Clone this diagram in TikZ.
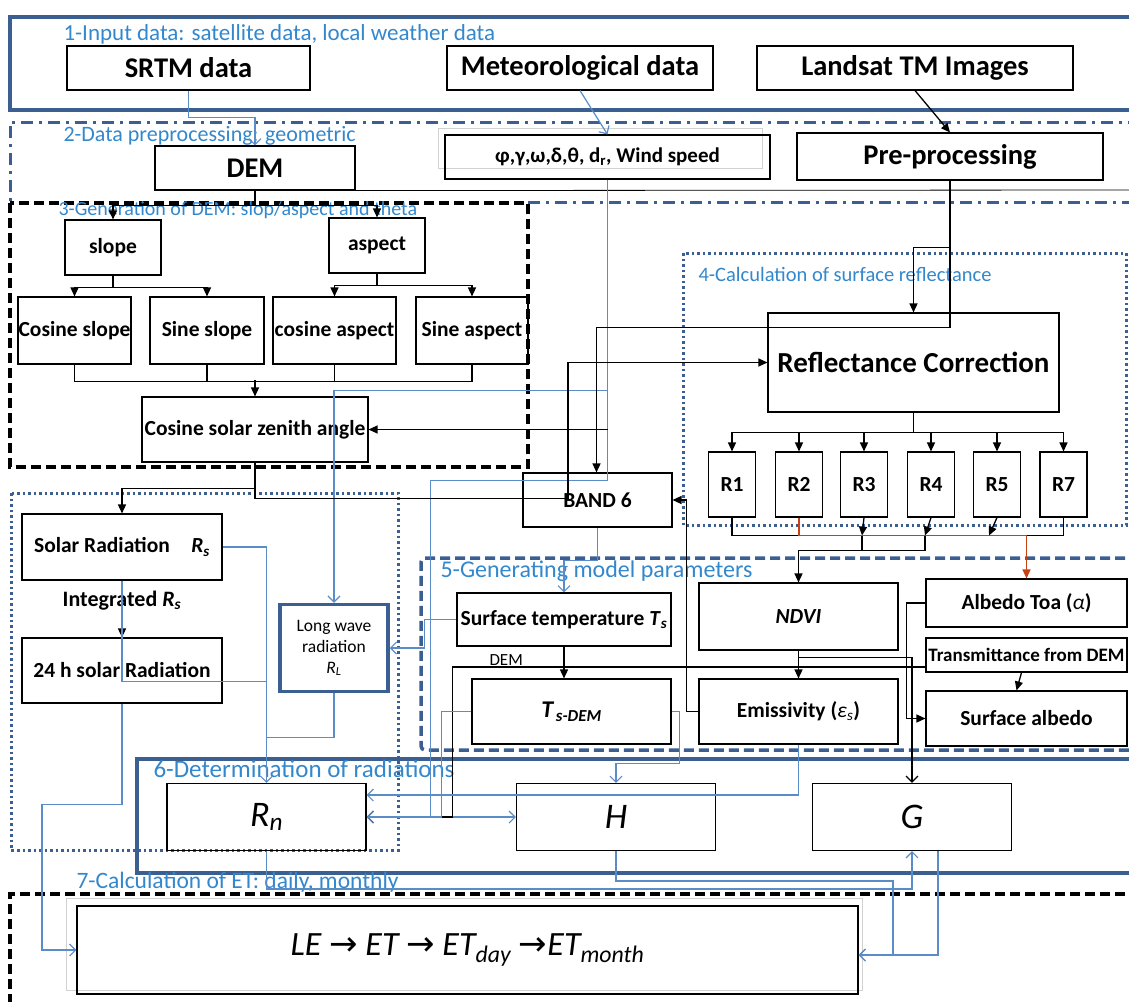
\documentclass[tikz,border=0pt]{standalone}
\usepackage{fontspec}
\setmainfont{Carlito}
\newfontfamily\arrowfont{DejaVu Sans}
\usetikzlibrary{arrows.meta}
\definecolor{framebl}{RGB}{60,95,145}
\definecolor{linebl}{RGB}{90,140,200}
\definecolor{titlebl}{RGB}{50,135,205}
\definecolor{redarr}{RGB}{200,65,20}

\begin{document}
\begin{tikzpicture}[x=1pt,y=-1pt,
    box/.style={draw,line width=1.1pt,inner sep=0pt,align=center,font=\bfseries\fontsize{21.5}{25}\selectfont},
    bigbox/.style={box,font=\bfseries\fontsize{28.5}{32}\selectfont},
    radbox/.style={box,font=\itshape\fontsize{36}{40}\selectfont,minimum width=199,minimum height=67},
    sectitle/.style={anchor=base west,text=titlebl,font=\fontsize{23}{27}\selectfont},
    tri/.style={line width=1.3pt,-{Triangle[length=9pt,width=8pt]}},
    blkline/.style={line width=1.3pt},
    blu/.style={linebl,line width=1.2pt,-{Straight Barb[length=6pt,width=12pt]}},
    bluline/.style={linebl,line width=1.2pt}]
  \useasboundingbox (0,0) rectangle (1129,1001);
  \draw[framebl,line width=4pt] (1140,17) -- (10,17) -- (10,110) -- (1140,110);
  \draw[framebl,line width=3pt,dash pattern=on 12pt off 6pt on 3pt off 6pt] (1140,122) -- (10,122) -- (10,202);
  \draw[framebl,line width=3pt,dash pattern=on 12pt off 6pt on 3pt off 6pt] (528,202) -- (1140,202);
  \draw[line width=3.5pt,dash pattern=on 10pt off 5pt] (10,203) rectangle (528,467);
  \draw[framebl,line width=3pt,dash pattern=on 2.5pt off 3pt] (683,253) rectangle (1126,525);
  \draw[framebl,line width=3pt,dash pattern=on 2.5pt off 3pt] (11,493) rectangle (398,850);
  \draw[framebl,line width=3.5pt,dash pattern=on 10pt off 5pt,rounded corners=4pt] (1140,558) -- (421,558) -- (421,750) -- (1140,750);
  \draw[framebl,line width=4pt] (1140,759) -- (137,759) -- (137,873) -- (1140,873);
  \draw[line width=3.5pt,dash pattern=on 10pt off 5pt] (1140,894) -- (10,894) -- (10,1010);

  \node[sectitle] (t1) at (60,40) {1-Input data: satellite data, local weather data};
  \node[sectitle,font=\fontsize{22}{26}\selectfont] (t2) at (60,141) {2-Data preprocessing: geometric};
  \node[sectitle,font=\fontsize{20}{24}\selectfont] (t3) at (55,215) {3-Generation of DEM: slop/aspect and theta};
  \node[sectitle,font=\fontsize{20.5}{24}\selectfont] (t4) at (695,281) {4-Calculation of surface reflectance};
  \node[sectitle,font=\fontsize{24}{28}\selectfont] (t5) at (437,577) {5-Generating model parameters};
  \node[sectitle,font=\fontsize{25}{29}\selectfont] (t6) at (150,777) {6-Determination of radiations};
  \node[sectitle,font=\fontsize{23.5}{27}\selectfont] (t7) at (73,888) {7-Calculation of ET: daily, monthly};

  \node[bigbox,minimum width=243,minimum height=44] (srtm) at (188.5,68) {SRTM data};
  \node[bigbox,minimum width=266,minimum height=44] (meteo) at (580,68) {Meteorological data};
  \node[bigbox,minimum width=316,minimum height=44] (landsat) at (915,68) {Landsat TM Images};
  \draw[gray!35,line width=1pt] (438,128) rectangle (762,168);
  \node[box,font=\bfseries\fontsize{21}{25}\selectfont,minimum width=325,minimum height=44] (params) at (607.5,157) {φ,γ,ω,δ,θ, d\textsubscript{r}, Wind speed};
  \node[bigbox,minimum width=200,minimum height=44] (dem) at (255,168) {DEM};
  \node[bigbox,minimum width=306,minimum height=47] (preproc) at (950,156.5) {Pre-processing};
  \node[box,minimum width=96,minimum height=55] (slope) at (113,247.5) {slope};
  \node[box,minimum width=96,minimum height=55] (aspect) at (377,245.5) {aspect};
  \node[box,minimum width=113,minimum height=67] (cosslope) at (74.5,330.5) {Cosine slope};
  \node[box,minimum width=114,minimum height=67] (sinslope) at (207,330.5) {Sine slope};
  \node[box,minimum width=123,minimum height=67] (cosaspect) at (334.5,330.5) {cosine aspect};
  \node[box,minimum width=112,minimum height=67] (sinaspect) at (472,330.5) {Sine aspect};
  \node[box,minimum width=226,minimum height=65] (cosz) at (255,429.5) {Cosine solar zenith angle};
  \node[bigbox,font=\bfseries\fontsize{29}{33}\selectfont,minimum width=291,minimum height=99] (reflc) at (913.5,362.5) {Reflectance Correction};
  \foreach \r/\x in {R1/732,R2/799,R3/864,R4/931,R5/997,R7/1063.5}
    \node[box,font=\bfseries\fontsize{21.5}{25}\selectfont,minimum width=47,minimum height=65] (\r) at (\x,484.5) {\r};
  \node[box,minimum width=149,minimum height=54] (band6) at (597.5,500) {BAND 6};
  \node[box,minimum width=200,minimum height=66] (solar) at (122,547) {Solar Radiation\quad\textit{R}\textsubscript{\textit{s}}};
  \node[box,minimum width=200,minimum height=65] (h24) at (122,670.5) {24 h solar Radiation};
  \node[font=\bfseries\fontsize{22}{25}\selectfont] (integ) at (122,601) {Integrated \textit{R}\textsubscript{\textit{s}}};
  \node[box,draw=framebl,line width=3.5pt,font=\fontsize{17.5}{21}\selectfont,minimum width=108,minimum height=87] (longwave) at (334,648) {Long wave\\radiation\\\textit{R}\textsubscript{\textit{L}}};
  \node[box,minimum width=214,minimum height=53] (surftemp) at (564,619.5) {Surface temperature \textit{T}\textsubscript{\textit{s}}};
  \node[box,minimum width=199,minimum height=67] (ndvi) at (798.5,616.5) {\textit{NDVI}};
  \node[box,minimum width=201,minimum height=48] (albtoa) at (1026.5,603) {Albedo Toa (\textnormal{\textit{α}})};
  \node[box,font=\bfseries\fontsize{19}{22}\selectfont,minimum width=201,minimum height=34] (transm) at (1026.5,655) {Transmittance from DEM};
  \node[box,font=\bfseries\itshape\fontsize{24}{28}\selectfont,minimum width=199,minimum height=65] (tsdem) at (571.5,711.5) {T\textsubscript{\,s-DEM}};
  \node[box,minimum width=199,minimum height=65] (emis) at (798.5,711.5) {Emissivity (\textnormal{\textit{ε}\textsubscript{\textit{s}}})};
  \node[box,minimum width=201,minimum height=55] (surfalb) at (1026.5,718.5) {Surface albedo};
  \node[anchor=base west,font=\fontsize{17}{20}\selectfont] (demlbl) at (486,665) {DEM};
  \node[radbox] (Rn) at (266.5,817) {R\textsubscript{n}};
  \node[radbox] (H) at (616,817) {H};
  \node[radbox] (G) at (912,817) {G};
  \draw[gray!35,line width=1pt] (66,898) rectangle (862,990);
  \node[box,font=\itshape\fontsize{34}{38}\selectfont,minimum width=781,minimum height=88] (et) at (467.5,950)
    {LE {\upshape\arrowfont →} ET {\upshape\arrowfont →} ET\textsubscript{day} {\upshape\arrowfont →}ET\textsubscript{month}};

  \draw[line width=0.8pt] (dem.south east) -- (1140,190);
  \draw[tri] (landsat.south) -- (preproc.north);
  \draw[blu] (meteo.south) -- (params.north);
  \draw[blu] (srtm.south) -- ++(0,27) -| (dem.north);
  \draw[tri] (dem.south) -- ++(0,15) -| (slope.north);
  \draw[tri] (dem.south) -- ++(0,15) -| (aspect.north);
  \draw[tri] (slope.south) -- ++(0,12) -| (cosslope.north);
  \draw[tri] (slope.south) -- ++(0,12) -| (sinslope.north);
  \draw[tri] (aspect.south) -- ++(0,12) -| (cosaspect.north);
  \draw[tri] (aspect.south) -- ++(0,12) -| (sinaspect.north);
  \draw[blkline] (cosslope.south) -- ++(0,17) -| (sinaspect.south);
  \draw[blkline] (sinslope.south) -- ++(0,17);
  \draw[blkline] (cosaspect.south) -- ++(0,17);
  \draw[tri] (cosz.north) ++(0,-16) -- (cosz.north);
  \draw[blu] (params.south) -- ++(0,211) -| (longwave.north);
  \draw[blu] (params.south) -- ++(0,301) -- ++(-177,0) |- (H.west);
  \draw[tri] (params.south |- cosz.east) -- (cosz.east);
  \draw[tri] (preproc.south) -- ++(0,67) -| (reflc.north);
  \draw[tri] (preproc.south) -- ++(0,147) -| ([xshift=-1pt]band6.north);
  \foreach \r in {R1,R2,R3,R4,R5,R7}
    \draw[tri] (reflc.south) -- ++(0,20) -| (\r.north);
  \draw[tri] (cosz.south) -- ++(0,26) -| (solar.north);
  \draw[tri] (cosz.south) -- ++(0,36) -- ++(313,0) |- (reflc.west);
  \draw[tri] (emis.west) -- ++(-12,0) |- (band6.east);
  \draw[blu] (band6.south) -- ++(0,33) -| (surftemp.north);
  \draw[blu] (surftemp.west) -- ++(-32,0) |- (longwave.east);
  \draw[tri] (surftemp.south) -- (surftemp.south |- tsdem.north);
  \draw[tri] (ndvi) -- (emis);
  \draw[blkline,-{Straight Barb[length=6pt,width=12pt]}] (ndvi.south) -- ++(0,7) -| (G.north);
  \draw[tri] (albtoa.west) -- ++(-19,0) |- (surfalb.west);
  \draw[tri] ([xshift=-5pt]transm.south) -- ([xshift=-10pt]surfalb.north);
  \draw[blkline,-{Straight Barb[length=6pt,width=12pt]}] ([yshift=-12pt]transm.west) -- ++(-473,0) |- (Rn.east);
  \draw[blu] (tsdem.west) -- ++(-30,0) |- (Rn.east);
  \draw[blu] (tsdem.east) -- ++(8,0) -- ++(0,52) -| (H.north);
  \draw[blu] (emis.south) |- ([yshift=22pt]Rn.east);
  \draw[blu] (solar.east) -| (Rn.north);
  \draw[tri] (solar.south) -- (h24.north);
  \draw[bluline] (solar.south) -- ++(0,101) -- ++(145,0);
  \draw[bluline] (longwave.south) -- ++(0,44) -- ++(-67.5,0);
  \draw[blu] (h24.south) -- ++(0,101) -- ++(-80,0) |- (et.west);
  \draw[blu] (Rn.south) -- ++(0,38) -| (G.south);
  \draw[blu] (H.south) -- ++(0,30) -- ++(277,0) |- ([yshift=-5pt]et.east);
  \draw[blu] ([xshift=26pt]G.south) |- ([yshift=-5pt]et.east);

  \draw[blkline] (R1.south) -- ++(0,18) -- ++(67,0);
  \draw[redarr,line width=1.3pt,-{Triangle[length=9pt,width=8pt]}] (R2.south) -- ++(0,18) -| (albtoa.north);
  \draw[tri] (R3.south) -- ++(-2,18) coordinate (m3);
  \draw[tri] (R4.south) -- ++(-6,18) coordinate (m4);
  \draw[tri] (R5.south) -- ++(-8,18);
  \draw[blkline] (R7.south) -- ++(0,18) -- ++(-37,0);
  \draw[tri] (m4) -- ++(0,15) -| (ndvi.north);
  \draw[blkline] (m3) -- ++(0,15);
\end{tikzpicture}
\end{document}
